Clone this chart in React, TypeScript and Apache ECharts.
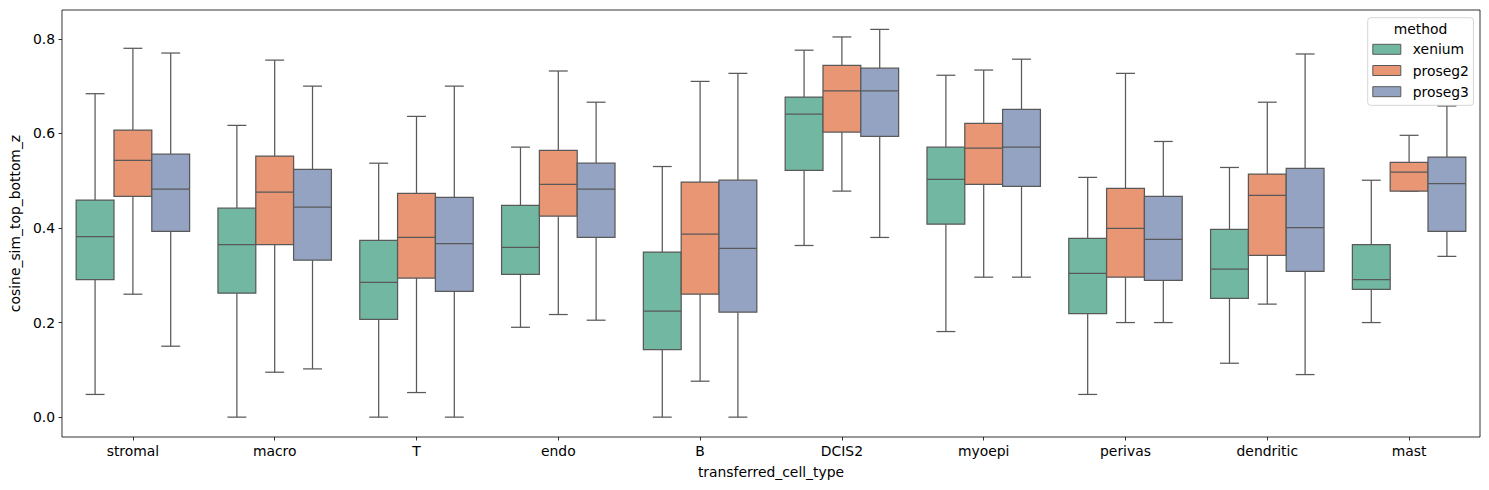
import React, { useEffect, useRef } from "react";
import * as echarts from "echarts";

const categories = ["stromal", "macro", "T", "endo", "B", "DCIS2", "myoepi", "perivas", "dendritic", "mast"];
const methods = ["xenium", "proseg2", "proseg3"];
const yTicks = [0, 0.2, 0.4, 0.6, 0.8];

// [lower whisker, Q1, median, Q3, upper whisker] per category
const xeniumStats = [
  [0.048, 0.291, 0.382, 0.459, 0.684],
  [0.0, 0.262, 0.365, 0.442, 0.617],
  [0.0, 0.207, 0.285, 0.374, 0.537],
  [0.19, 0.302, 0.359, 0.448, 0.571],
  [0.0, 0.143, 0.224, 0.349, 0.53],
  [0.363, 0.522, 0.641, 0.677, 0.776],
  [0.181, 0.408, 0.503, 0.571, 0.723],
  [0.048, 0.219, 0.304, 0.378, 0.507],
  [0.114, 0.251, 0.313, 0.397, 0.528],
  [0.2, 0.27, 0.291, 0.365, 0.501],
];
const proseg2Stats = [
  [0.26, 0.467, 0.543, 0.607, 0.78],
  [0.095, 0.365, 0.476, 0.552, 0.755],
  [0.052, 0.294, 0.38, 0.473, 0.636],
  [0.217, 0.425, 0.492, 0.564, 0.732],
  [0.076, 0.26, 0.387, 0.497, 0.71],
  [0.478, 0.603, 0.69, 0.744, 0.804],
  [0.296, 0.492, 0.569, 0.621, 0.734],
  [0.2, 0.296, 0.399, 0.484, 0.727],
  [0.239, 0.342, 0.469, 0.514, 0.666],
  [0.478, 0.478, 0.518, 0.539, 0.596],
];
const proseg3Stats = [
  [0.15, 0.393, 0.482, 0.556, 0.77],
  [0.102, 0.332, 0.444, 0.524, 0.7],
  [0.0, 0.266, 0.367, 0.465, 0.7],
  [0.205, 0.38, 0.482, 0.537, 0.666],
  [0.0, 0.222, 0.357, 0.501, 0.727],
  [0.38, 0.594, 0.69, 0.738, 0.82],
  [0.296, 0.488, 0.571, 0.651, 0.757],
  [0.2, 0.289, 0.376, 0.467, 0.583],
  [0.09, 0.308, 0.401, 0.526, 0.768],
  [0.34, 0.393, 0.494, 0.55, 0.658],
];

const allStats = [xeniumStats, proseg2Stats, proseg3Stats];
const colors = ["#71b7a1", "#e99675", "#95a3c3"];
const edge = "#595959";
const FONT = "DejaVu Sans";
const FS = 13.9;

export default function App() {
  const ref = useRef<HTMLDivElement>(null);

  useEffect(() => {
    document.body.style.margin = "0";
    if (!ref.current) return;
    const chart = echarts.init(ref.current, null, { renderer: "svg" });

    const series = methods.map((m, k) => ({
      type: "custom",
      name: m,
      itemStyle: { color: colors[k] },
      encode: { x: 0, y: [1, 2, 3, 4, 5] },
      data: allStats[k].map((s, ci) => [ci, ...s]),
      renderItem: (params: any, api: any) => {
        const ci = api.value(0);
        const bw = api.size([1, 0])[0];
        const boxW = (bw * 0.8) / 3;
        const cx = api.coord([ci, 0])[0] + (k - 1) * boxW;
        const y = (i: number) => api.coord([ci, api.value(i)])[1];
        const yLo = y(1), yQ1 = y(2), yMed = y(3), yQ3 = y(4), yHi = y(5);
        const capHalf = boxW / 4;
        const ls = { stroke: edge, lineWidth: 1.25 };
        return {
          type: "group",
          children: [
            { type: "line", shape: { x1: cx, y1: yQ1, x2: cx, y2: yLo }, style: ls },
            { type: "line", shape: { x1: cx, y1: yQ3, x2: cx, y2: yHi }, style: ls },
            { type: "line", shape: { x1: cx - capHalf, y1: yLo, x2: cx + capHalf, y2: yLo }, style: ls },
            { type: "line", shape: { x1: cx - capHalf, y1: yHi, x2: cx + capHalf, y2: yHi }, style: ls },
            {
              type: "rect",
              shape: { x: cx - boxW / 2, y: yQ3, width: boxW, height: yQ1 - yQ3 },
              style: { fill: colors[k], stroke: edge, lineWidth: 1.25 },
            },
            { type: "line", shape: { x1: cx - boxW / 2, y1: yMed, x2: cx + boxW / 2, y2: yMed }, style: ls },
          ],
        };
      },
    }));

    chart.setOption({
      animation: false,
      textStyle: { fontFamily: FONT },
      grid: {
        left: 61,
        right: 9,
        top: 10,
        bottom: 53,
        show: true,
        borderColor: "#000",
        borderWidth: 0.8,
        backgroundColor: "transparent",
      },
      xAxis: {
        type: "category",
        data: categories,
        boundaryGap: true,
        name: "transferred_cell_type",
        nameLocation: "middle",
        nameGap: 28,
        nameTextStyle: { fontSize: FS, color: "#000", fontFamily: FONT },
        axisLine: { show: false, onZero: false },
        axisTick: { show: true, alignWithLabel: true, length: 3.5, lineStyle: { color: "#000", width: 0.8 } },
        axisLabel: { interval: 0, margin: 7, fontSize: FS, color: "#000", fontFamily: FONT },
        splitLine: { show: false },
      },
      yAxis: {
        type: "value",
        min: -0.042,
        max: 0.861,
        name: "cosine_sim_top_bottom_z",
        nameLocation: "middle",
        nameGap: 37,
        nameTextStyle: { fontSize: FS, color: "#000", fontFamily: FONT },
        axisLine: { show: false, onZero: false },
        axisTick: { show: true, length: 3.5, customValues: yTicks, lineStyle: { color: "#000", width: 0.8 } },
        axisLabel: {
          customValues: yTicks,
          margin: 7,
          fontSize: FS,
          color: "#000",
          fontFamily: FONT,
          formatter: (v: number) => v.toFixed(1),
        },
        splitLine: { show: false },
      },
      legend: {
        orient: "vertical",
        left: 1367.7,
        top: 17.7,
        padding: [24.6, 4.5, 6.6, 4.6],
        itemWidth: 28,
        itemHeight: 10,
        itemGap: 7.2,
        selectedMode: false,
        backgroundColor: "rgba(255,255,255,0.8)",
        borderColor: "rgba(204,204,204,0.8)",
        borderWidth: 1,
        borderRadius: 3,
        textStyle: { fontSize: FS, color: "#000", fontFamily: FONT, padding: [0, 0, 0, 7] },
        data: methods.map((m, i) => ({
          name: m,
          icon: "rect",
          itemStyle: { color: colors[i], borderColor: edge, borderWidth: 1 },
        })),
      },
      graphic: [
        {
          type: "text",
          x: 1420.5,
          y: 29,
          z: 100,
          style: {
            text: "method",
            textAlign: "center",
            textVerticalAlign: "middle",
            fontSize: FS,
            fontFamily: FONT,
            fill: "#000",
          },
        },
      ],
      series,
    });

    return () => chart.dispose();
  }, []);

  return <div ref={ref} style={{ width: 1489, height: 490 }} />;
}
